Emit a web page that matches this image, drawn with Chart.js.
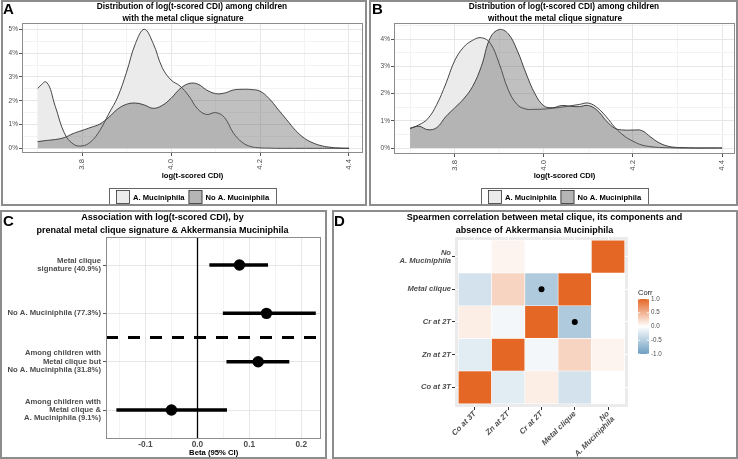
<!DOCTYPE html>
<html><head><meta charset="utf-8">
<script src="https://cdn.jsdelivr.net/npm/chart.js@4.4.1/dist/chart.umd.min.js"></script>
<style>
html,body{margin:0;padding:0;background:#fff;}
#wrap{position:relative;width:738px;height:459px;overflow:hidden;font-family:'Liberation Sans',Arial,sans-serif;}
.frame{position:absolute;box-sizing:border-box;border:2px solid #8c8c8c;pointer-events:none;z-index:2;}
.cv{position:absolute;z-index:1;}
.lbl{position:absolute;font-weight:bold;font-size:15px;line-height:15px;color:#000;z-index:3;}
</style></head>
<body><div id="wrap">
<div class="cv" style="left:0;top:0"><canvas id="cA" width="368" height="206"></canvas></div>
<div class="cv" style="left:368px;top:0"><canvas id="cB" width="370" height="206"></canvas></div>
<div class="cv" style="left:0;top:210px"><canvas id="cC" width="327" height="249"></canvas></div>
<div class="cv" style="left:332px;top:210px"><canvas id="cD" width="406" height="249"></canvas></div>
<div class="frame" style="left:1px;top:0;width:366px;height:206px"></div>
<div class="frame" style="left:369px;top:0;width:369px;height:206px"></div>
<div class="frame" style="left:0;top:210px;width:327px;height:249px"></div>
<div class="frame" style="left:332px;top:210px;width:406px;height:249px"></div>
<div class="lbl" style="left:3px;top:1px">A</div>
<div class="lbl" style="left:372px;top:1px">B</div>
<div class="lbl" style="left:3px;top:213px">C</div>
<div class="lbl" style="left:334px;top:213px">D</div>
</div>
<script>
// ---------------- DATA ----------------
const seriesNames = ['A. Muciniphila', 'No A. Muciniphila'];
const densityX = [3.70,3.72,3.74,3.76,3.78,3.80,3.82,3.84,3.86,3.88,3.90,3.92,3.94,3.96,3.98,4.00,4.02,4.04,4.06,4.08,4.10,4.12,4.14,4.16,4.18,4.20,4.22,4.24,4.26,4.28,4.30,4.32,4.34,4.36,4.38,4.40];
// Panel A: children with the metal clique signature (density, %)
const withMetalAkk   = [2.52,2.78,1.75,0.65,0.18,0.10,0.28,0.75,1.45,2.15,3.20,4.40,5.00,4.40,3.40,2.87,2.62,2.20,1.65,1.42,1.50,1.30,0.65,0.25,0.07,0.02,0.01,0,0,0,0,0,0,0,0,0];
const withMetalNoAkk = [0.28,0.33,0.37,0.45,0.62,0.75,0.88,1.02,1.30,1.65,1.85,1.90,1.82,1.68,1.80,2.10,2.50,2.72,2.70,2.45,2.30,2.32,2.45,2.48,2.47,2.40,2.10,1.65,1.20,0.75,0.42,0.22,0.10,0.04,0.01,0];
// Panel B: children without the metal clique signature (density, %)
const withoutMetalAkk   = [0.72,0.85,1.08,1.60,2.35,3.20,3.70,3.95,4.05,3.85,3.10,2.15,1.60,1.43,1.42,1.43,1.46,1.50,1.55,1.60,1.65,1.48,1.15,0.75,0.45,0.25,0.11,0.05,0.02,0.01,0,0,0,0,0,0];
const withoutMetalNoAkk = [0.72,0.80,0.67,0.75,1.15,1.47,1.80,2.25,3.00,4.05,4.35,4.20,3.60,2.75,2.00,1.55,1.48,1.56,1.53,1.52,1.56,1.38,1.00,0.72,0.66,0.66,0.64,0.40,0.18,0.06,0.02,0.01,0,0,0,0];
const densityXTicks = [3.8, 4.0, 4.2, 4.4];
const densityXMinor = [3.7, 3.9, 4.1, 4.3];

// Panel C: forest plot
const forestLabels = [
  ['Metal clique', 'signature (40.9%)'],
  'No A. Muciniphila (77.3%)',
  ['Among children with', 'Metal clique but', 'No A. Muciniphila (31.8%)'],
  ['Among children with', 'Metal clique &', 'A. Muciniphila (9.1%)']
];
const forestEstimate = [0.081, 0.133, 0.117, -0.050];
const forestLower    = [0.023, 0.049, 0.056, -0.156];
const forestUpper    = [0.136, 0.228, 0.177, 0.057];
const forestXTicks = [-0.1, 0.0, 0.1, 0.2];
const forestXMinor = [-0.15, -0.05, 0.05, 0.15];

// Panel D: Spearman correlation matrix (rows bottom->top, cols left->right)
const corrNames = ['Co at 3T', 'Zn at 2T', 'Cr at 2T', 'Metal clique', ['No', 'A. Muciniphila']];
const corrMatrix = [
  [ 1.00, -0.20,  0.12, -0.30, 0.00],
  [-0.20,  1.00, -0.08,  0.28, 0.07],
  [ 0.12, -0.08,  1.00, -0.55, 0.00],
  [-0.30,  0.28, -0.55,  1.00, 0.00],
  [ 0.00,  0.07,  0.00,  0.00, 1.00]
];
const corrSignificant = [[2, 3], [3, 2]]; // [col, row]
const corrLegendTicks = [1.0, 0.5, 0.0, -0.5, -1.0];

// ---------------- HELPERS ----------------
const FONT = "'Liberation Sans', Arial, sans-serif";
Chart.defaults.font.family = FONT;
const HIGH = [228, 103, 38], LOW = [109, 158, 193];
function corrColor(v) {
  const t = Math.min(1, Math.abs(v)), c = v >= 0 ? HIGH : LOW;
  const m = c.map(k => Math.round(255 + (k - 255) * t));
  return `rgb(${m[0]},${m[1]},${m[2]})`;
}
const near = (arr, v) => arr.some(t => Math.abs(t - v) < 1e-9);

const panelTitle = {
  id: 'panelTitle',
  afterDraw(chart, args, o) {
    const ctx = chart.ctx; ctx.save();
    ctx.font = `bold ${o.size || 8.3}px ${FONT}`; ctx.fillStyle = '#000';
    ctx.textAlign = 'center'; ctx.textBaseline = 'middle';
    o.lines.forEach(l => ctx.fillText(l.text, l.x, l.y));
    ctx.restore();
  }
};
const plotFrame = {
  id: 'plotFrame',
  afterDatasetsDraw(chart, args, o) {
    if (!o.show) return;
    const a = chart.chartArea, ctx = chart.ctx; ctx.save();
    ctx.strokeStyle = o.color || '#8c8c8c'; ctx.lineWidth = 1;
    ctx.strokeRect(Math.round(a.left) + 0.5, Math.round(a.top) + 0.5, Math.round(a.right - a.left) - 1, Math.round(a.bottom - a.top) - 1);
    ctx.restore();
  }
};
const densLegend = {
  id: 'densLegend',
  afterDraw(chart, args, o) {
    const ctx = chart.ctx, ds = chart.data.datasets; ctx.save();
    ctx.font = `bold 7.6px ${FONT}`;
    const box = 14, gap = 3, itemGap = 4, pad = 7;
    const widths = ds.map(d => ctx.measureText(d.label).width);
    const total = pad * 2 + ds.reduce((s, d, i) => s + box + gap + widths[i], 0) + itemGap * (ds.length - 1);
    const cx = (chart.chartArea.left + chart.chartArea.right) / 2;
    let x = Math.round(cx - total / 2);
    const top = o.top, h = o.height;
    ctx.strokeStyle = '#666'; ctx.lineWidth = 1;
    ctx.strokeRect(x + 0.5, top + 0.5, Math.round(total), h);
    x += pad;
    ds.forEach((d, i) => {
      const by = top + Math.round((h - box) / 2) + 1;
      ctx.fillStyle = '#fff'; ctx.fillRect(x, by, box, box);
      ctx.fillStyle = d.legendColor; ctx.fillRect(x, by, box, box);
      ctx.strokeStyle = '#333'; ctx.lineWidth = 0.8; ctx.strokeRect(x + 0.5, by + 0.5, box - 1, box - 1);
      x += box + gap;
      ctx.fillStyle = '#000'; ctx.textAlign = 'left'; ctx.textBaseline = 'middle';
      ctx.fillText(d.label, x, by + box / 2 + 0.5);
      x += widths[i] + itemGap;
    });
    ctx.restore();
  }
};

function densityChart(id, akk, noAkk, cfg) {
  const mk = (label, vals, bg, legendColor, order) => ({
    label, order, legendColor,
    data: densityX.map((x, i) => ({ x, y: vals[i] })),
    fill: 'origin', backgroundColor: bg, borderColor: '#333', borderWidth: 0.9,
    pointRadius: 0, tension: 0.4
  });
  const majorX = c => c.tick && near(densityXTicks, c.tick.value);
  const majorY = c => c.tick && Number.isInteger(Math.round(c.tick.value * 1000) / 1000);
  return new Chart(document.getElementById(id), {
    type: 'line',
    data: { datasets: [
      mk(seriesNames[0], akk, '#ebebeb', '#ebebeb', 2),
      mk(seriesNames[1], noAkk, 'rgba(98,98,98,0.4)', '#b5b5b5', 1)
    ] },
    options: {
      responsive: false, animation: false, events: [],
      layout: { padding: { top: 23, left: 0, right: cfg.right, bottom: cfg.bottom } },
      scales: {
        x: {
          type: 'linear', min: cfg.xmin, max: cfg.xmax,
          afterBuildTicks: s => { s.ticks = densityXMinor.concat(densityXTicks).sort((a, b) => a - b).map(v => ({ value: v })); },
          ticks: { autoSkip: false, minRotation: 90, maxRotation: 90, padding: 3, color: '#4d4d4d', font: { size: 7.7 },
                   callback: v => near(densityXTicks, v) ? v.toFixed(1) : '' },
          grid: { color: c => majorX(c) ? '#e6e6e6' : '#f3f3f3', lineWidth: 1, tickLength: 3,
                  tickColor: c => majorX(c) ? '#555' : 'rgba(0,0,0,0)' },
          border: { display: false },
          title: { display: true, text: 'log(t-scored CDI)', color: '#000', font: { size: 7.6, weight: 'bold' }, padding: { top: 0, bottom: 0 } },
          afterFit: s => { s.height = cfg.xh; }
        },
        y: {
          min: cfg.ymin, max: cfg.ymax,
          afterBuildTicks: s => { const t = []; for (let k = 0; k * 0.5 <= cfg.ymax; k++) t.push({ value: k * 0.5 }); s.ticks = t; },
          ticks: { autoSkip: false, padding: 1, color: '#4d4d4d', font: { size: 6.5 },
                   callback: v => Number.isInteger(Math.round(v * 1000) / 1000) ? Math.round(v) + '%' : '' },
          grid: { color: c => majorY(c) ? '#e6e6e6' : '#f3f3f3', lineWidth: 1, tickLength: 3,
                  tickColor: c => majorY(c) ? '#555' : 'rgba(0,0,0,0)' },
          border: { display: false },
          afterFit: s => { s.width = cfg.yw; }
        }
      },
      plugins: {
        legend: { display: false }, tooltip: { enabled: false },
        panelTitle: { lines: cfg.title },
        plotFrame: { show: true },
        densLegend: { top: 188, height: 16 }
      }
    },
    plugins: [panelTitle, plotFrame, densLegend]
  });
}

densityChart('cA', withMetalAkk, withMetalNoAkk, {
  right: 5, bottom: 26, xh: 27, yw: 22, xmin: 3.665, xmax: 4.4315, ymin: -0.197, ymax: 5.265,
  title: [ { text: 'Distribution of log(t-scored CDI) among children', x: 192, y: 6.5 },
           { text: 'with the metal clique signature', x: 183, y: 19 } ]
});
densityChart('cB', withoutMetalAkk, withoutMetalNoAkk, {
  right: 3, bottom: 26, xh: 26, yw: 26, xmin: 3.664, xmax: 4.429, ymin: -0.22, ymax: 4.59,
  title: [ { text: 'Distribution of log(t-scored CDI) among children', x: 196, y: 6.5 },
           { text: 'without the metal clique signature', x: 187, y: 19 } ]
});

// ---------------- PANEL C ----------------
const refLines = {
  id: 'refLines',
  beforeDatasetsDraw(chart, args, o) {
    const ctx = chart.ctx, a = chart.chartArea, xs = chart.scales.x, ys = chart.scales.y;
    ctx.save();
    const x0 = Math.round(xs.getPixelForValue(o.zero)) + 0.5;
    ctx.strokeStyle = '#000'; ctx.lineWidth = 1.3;
    ctx.beginPath(); ctx.moveTo(x0, a.top); ctx.lineTo(x0, a.bottom); ctx.stroke();
    const y0 = ys.getPixelForValue(o.separator);
    ctx.lineWidth = 3; ctx.setLineDash([12, 10]);
    ctx.beginPath(); ctx.moveTo(a.left, y0); ctx.lineTo(a.right, y0); ctx.stroke();
    ctx.restore();
  }
};
(function () {
  const majorX = c => c.tick && near(forestXTicks, c.tick.value);
  const ciSets = forestEstimate.map((e, i) => ({
    type: 'line', order: 2,
    data: [{ x: forestLower[i], y: i + 1 }, { x: forestUpper[i], y: i + 1 }],
    borderColor: '#000', borderWidth: 3.5, pointRadius: 0, borderCapStyle: 'butt'
  }));
  new Chart(document.getElementById('cC'), {
    type: 'scatter',
    data: { datasets: [
      { type: 'scatter', order: 0, data: forestEstimate.map((e, i) => ({ x: e, y: i + 1 })),
        pointRadius: 5.7, backgroundColor: '#000', borderWidth: 0 },
      ...ciSets
    ] },
    options: {
      responsive: false, animation: false, events: [],
      layout: { padding: { top: 27, left: 0, right: 2, bottom: 0 } },
      scales: {
        x: {
          type: 'linear', min: -0.176, max: 0.2386,
          afterBuildTicks: s => { s.ticks = forestXMinor.concat(forestXTicks).sort((a, b) => a - b).map(v => ({ value: v })); },
          ticks: { autoSkip: false, maxRotation: 0, padding: 1, color: '#4d4d4d', font: { size: 8.3, weight: 'bold' },
                   callback: v => near(forestXTicks, v) ? (Math.abs(v) < 1e-9 ? '0.0' : v.toFixed(1)) : '' },
          grid: { color: c => majorX(c) ? '#e6e6e6' : '#f3f3f3', lineWidth: 1, tickLength: 0 },
          border: { display: false },
          title: { display: true, text: 'Beta (95% CI)', color: '#000', font: { size: 7.7, weight: 'bold' }, padding: { top: 0, bottom: 1 } },
          afterFit: s => { s.height = 20; }
        },
        y: {
          type: 'linear', reverse: true, min: 0.42, max: 4.6,
          afterBuildTicks: s => { s.ticks = forestLabels.map((l, i) => ({ value: i + 1 })); },
          ticks: { autoSkip: false, padding: 2, color: '#4d4d4d', font: { size: 7.7, weight: 'bold', lineHeight: 1.08 },
                   callback: v => forestLabels[Math.round(v) - 1] },
          grid: { color: '#e6e6e6', lineWidth: 1, tickLength: 3, tickColor: '#555' },
          border: { display: false },
          afterFit: s => { s.width = 106; }
        }
      },
      plugins: {
        legend: { display: false }, tooltip: { enabled: false },
        refLines: { zero: 0, separator: 2.5 },
        plotFrame: { show: true },
        panelTitle: { size: 9, lines: [
          { text: 'Association with log(t-scored CDI), by', x: 162.5, y: 7.5 },
          { text: 'prenatal metal clique signature & Akkermansia Muciniphila', x: 162.5, y: 21 } ] }
      }
    },
    plugins: [refLines, plotFrame, panelTitle]
  });
})();

// ---------------- PANEL D ----------------
const heatBg = {
  id: 'heatBg',
  beforeDraw(chart, args, o) {
    const a = chart.chartArea, ctx = chart.ctx; ctx.save();
    ctx.fillStyle = o.color; ctx.fillRect(a.left, a.top, a.right - a.left, a.bottom - a.top);
    ctx.restore();
  }
};
const corrBar = {
  id: 'corrBar',
  afterDraw(chart, args, o) {
    const ctx = chart.ctx, { x, y, w, h } = o; ctx.save();
    const g = ctx.createLinearGradient(0, y, 0, y + h);
    g.addColorStop(0, corrColor(1)); g.addColorStop(0.5, '#ffffff'); g.addColorStop(1, corrColor(-1));
    ctx.fillStyle = g; ctx.fillRect(x, y, w, h);
    ctx.font = `7.5px ${FONT}`; ctx.fillStyle = '#1a1a1a'; ctx.textAlign = 'left'; ctx.textBaseline = 'alphabetic';
    ctx.fillText('Corr', x, y - 4);
    ctx.font = `6.3px ${FONT}`; ctx.fillStyle = '#4d4d4d'; ctx.textBaseline = 'middle';
    corrLegendTicks.forEach(v => {
      const yy = y + (1 - v) / 2 * h;
      ctx.fillText(v.toFixed(1), x + w + 2, yy);
      ctx.strokeStyle = '#fff'; ctx.lineWidth = 0.8; ctx.beginPath();
      ctx.moveTo(x, yy); ctx.lineTo(x + 2.2, yy); ctx.moveTo(x + w - 2.2, yy); ctx.lineTo(x + w, yy); ctx.stroke();
    });
    ctx.restore();
  }
};
(function () {
  const tiles = [], tileColors = [];
  corrMatrix.forEach((row, r) => row.forEach((v, c) => { tiles.push({ x: c, y: [r - 0.5, r + 0.5] }); tileColors.push(corrColor(v)); }));
  const idxTicks = s => { s.ticks = corrNames.map((n, i) => ({ value: i })); };
  new Chart(document.getElementById('cD'), {
    type: 'bar',
    data: { datasets: [
      { type: 'scatter', order: 0, data: corrSignificant.map(([c, r]) => ({ x: c, y: r })),
        pointRadius: 3, backgroundColor: '#000', borderWidth: 0 },
      { type: 'bar', order: 1, data: tiles, backgroundColor: tileColors, borderColor: '#fff', borderWidth: 0.6,
        borderSkipped: false, barPercentage: 1, categoryPercentage: 1 }
    ] },
    options: {
      responsive: false, animation: false, events: [],
      layout: { padding: { top: 27, left: 0, right: 110, bottom: 0 } },
      scales: {
        x: {
          type: 'linear', min: -0.6, max: 4.6, offset: false,
          afterBuildTicks: idxTicks,
          ticks: { autoSkip: false, minRotation: 45, maxRotation: 45, padding: 0, color: '#4d4d4d',
                   font: { size: 7.8, weight: 'bold', style: 'italic', lineHeight: 0.95 },
                   callback: v => corrNames[Math.round(v)] },
          grid: { offset: false, color: '#ffffff', lineWidth: 1, tickLength: 3, tickColor: '#333' },
          border: { display: false },
          afterFit: s => { s.height = 52; }
        },
        y: {
          type: 'linear', min: -0.6, max: 4.6,
          afterBuildTicks: idxTicks,
          ticks: { autoSkip: false, padding: 1, color: '#4d4d4d',
                   font: { size: 7.6, weight: 'bold', style: 'italic', lineHeight: 1.08 },
                   callback: v => corrNames[Math.round(v)] },
          grid: { color: '#ffffff', lineWidth: 1, tickLength: 3, tickColor: '#333' },
          border: { display: false },
          afterFit: s => { s.width = 123; }
        }
      },
      plugins: {
        legend: { display: false }, tooltip: { enabled: false },
        heatBg: { color: '#ebebeb' },
        corrBar: { x: 306, y: 89, w: 11, h: 55 },
        panelTitle: { size: 9, lines: [
          { text: 'Spearmen correlation between metal clique, its components and', x: 212.5, y: 8 },
          { text: 'absence of Akkermansia Muciniphila', x: 202.5, y: 21 } ] }
      }
    },
    plugins: [heatBg, corrBar, panelTitle]
  });
})();
</script>
</body></html>
